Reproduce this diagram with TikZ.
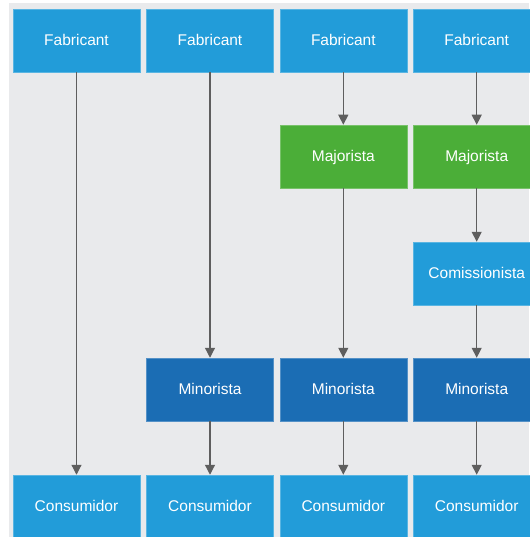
\documentclass[tikz,border=0pt]{standalone}
\usepackage{fontspec}
\setmainfont{Liberation Sans}
\usetikzlibrary{arrows.meta}
\definecolor{panelgray}{HTML}{E9EAEC}
\definecolor{lightblue}{HTML}{229CD9}
\definecolor{darkblue}{HTML}{1B6DB4}
\definecolor{leafgreen}{HTML}{4BAE38}
\definecolor{linegray}{HTML}{5E5E5E}
\tikzset{
  stage/.style={minimum width=127pt, minimum height=63pt, inner sep=0pt,
    text height=11.5pt, text depth=1.5pt,
    text=white, font=\fontsize{15.5}{18}\selectfont, draw=#1!75!white, line width=0.5pt, fill=#1},
  maker/.style={stage=lightblue},
  wholesale/.style={stage=leafgreen},
  agent/.style={stage=lightblue},
  retail/.style={stage=darkblue},
  buyer/.style={stage=lightblue},
  flow/.style={draw=linegray, line width=1.2pt, -{Triangle[width=10pt,length=10pt]}}
}
\begin{document}
\begin{tikzpicture}[x=1pt,y=-1pt]
\useasboundingbox (0,0) rectangle (529,537);
\fill[white] (0,0) rectangle (529,537);
\fill[panelgray] (9,3) rectangle (529,537);

% top row: manufacturers
\node[maker] (f1) at (76.5,40.5) {Fabricant};
\node[maker] (f2) at (210,40.5) {Fabricant};
\node[maker] (f3) at (343.3,40.5) {Fabricant};
\node[maker] (f4) at (476.7,40.5) {Fabricant};

% wholesalers
\node[wholesale] (w3) at (343.3,156.5) {Majorista};
\node[wholesale] (w4) at (476.7,156.5) {Majorista};

% commission agent
\node[agent] (a4) at (476.7,273.5) {Comissionista};

% retailers
\node[retail] (r2) at (210,389.5) {Minorista};
\node[retail] (r3) at (343.3,389.5) {Minorista};
\node[retail] (r4) at (476.7,389.5) {Minorista};

% bottom row: consumers
\node[buyer] (c1) at (76.5,506.5) {Consumidor};
\node[buyer] (c2) at (210,506.5) {Consumidor};
\node[buyer] (c3) at (343.3,506.5) {Consumidor};
\node[buyer] (c4) at (476.7,506.5) {Consumidor};

% distribution channels
\draw[flow] (f1) -- (c1);
\draw[flow] (f2) -- (r2);
\draw[flow] (r2) -- (c2);
\draw[flow] (f3) -- (w3);
\draw[flow] (w3) -- (r3);
\draw[flow] (r3) -- (c3);
\draw[flow] (f4) -- (w4);
\draw[flow] (w4) -- (a4);
\draw[flow] (a4) -- (r4);
\draw[flow] (r4) -- (c4);
\end{tikzpicture}
\end{document}
